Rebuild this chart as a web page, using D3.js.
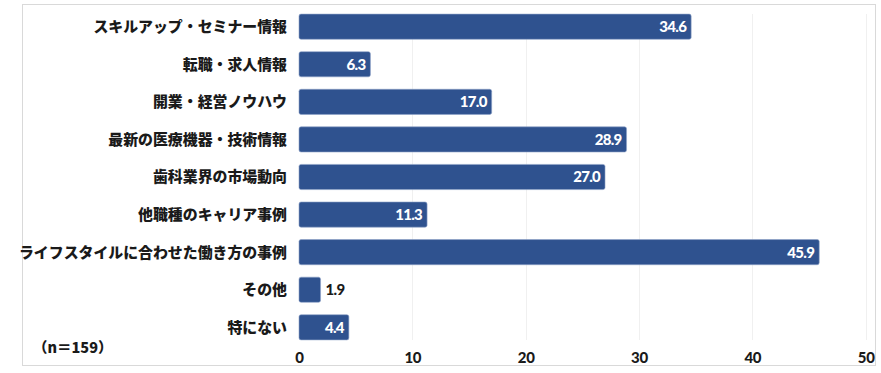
<!DOCTYPE html>
<html><head><meta charset="utf-8">
<script src="https://cdn.jsdelivr.net/npm/d3@7/dist/d3.min.js"></script>
<style>
html,body{margin:0;padding:0;background:#fff;}
svg{display:block;}
</style></head>
<body>
<script>
const categories = [
  "スキルアップ・セミナー情報",
  "転職・求人情報",
  "開業・経営ノウハウ",
  "最新の医療機器・技術情報",
  "歯科業界の市場動向",
  "他職種のキャリア事例",
  "ライフスタイルに合わせた働き方の事例",
  "その他",
  "特にない"
];
const values = [34.6, 6.3, 17.0, 28.9, 27.0, 11.3, 45.9, 1.9, 4.4];
const xTicks = [0, 10, 20, 30, 40, 50];
const note = "（n＝159）";

const W = 881, H = 373;
const svg = d3.select("body").append("svg").attr("width", W).attr("height", H);

// frame
svg.append("rect").attr("x", 22.5).attr("y", 4.5).attr("width", 853).attr("height", 361)
  .attr("fill", "#fff").attr("stroke", "#d9d9d9").attr("stroke-width", 1);

const x = d3.scaleLinear().domain([0, 50]).range([299, 865.7]);
const y = d3.scaleBand().domain(categories).range([7.9, 346.1]).paddingInner(0.33).paddingOuter(0.165);

const jp = "'Noto Sans CJK JP', 'Noto Sans', sans-serif";
const num = "Lato, 'Noto Sans', sans-serif";

// gridlines
svg.append("g").selectAll("line").data(xTicks.slice(1)).join("line")
  .attr("x1", d => Math.round(x(d)) + 0.5).attr("x2", d => Math.round(x(d)) + 0.5)
  .attr("y1", 14).attr("y2", 340)
  .attr("stroke", "#f0f0f0").attr("stroke-width", 1);

// bars
svg.append("g").selectAll("rect").data(values).join("rect")
  .attr("x", x(0))
  .attr("y", (d, i) => y(categories[i]))
  .attr("width", d => x(d) - x(0))
  .attr("height", y.bandwidth())
  .attr("rx", 2)
  .attr("fill", "#2f528f")
  .attr("stroke", "#8fa3c8").attr("stroke-width", 0.6);

// category labels
svg.append("g").selectAll("text").data(categories).join("text")
  .attr("x", 287)
  .attr("y", d => y(d) + y.bandwidth() / 2)
  .attr("dy", "0.36em")
  .attr("text-anchor", "end")
  .attr("font-family", jp).attr("font-weight", 900).attr("font-size", 14.9)
  .attr("fill", "#1a1a1a")
  .text(d => d);

// value labels
svg.append("g").selectAll("text").data(values).join("text")
  .each(function(d, i) {
    const t = d3.select(this);
    const inside = (x(d) - x(0)) > 34;
    t.attr("x", inside ? x(d) - 5 : x(d) + 5)
     .attr("text-anchor", inside ? "end" : "start")
     .attr("fill", inside ? "#ffffff" : "#1a1a1a");
  })
  .attr("y", (d, i) => y(categories[i]) + y.bandwidth() / 2)
  .attr("dy", "0.36em")
  .attr("font-family", num).attr("font-weight", 900).attr("font-size", 15)
  .attr("letter-spacing", "-0.7px")
  .text(d => d.toFixed(1));

// x axis
const ax = svg.append("g").attr("transform", "translate(0,345)")
  .call(d3.axisBottom(x).tickValues(xTicks).tickSize(0).tickPadding(7).tickFormat(d3.format("d")));
ax.select(".domain").remove();
ax.selectAll("text").attr("font-family", num).attr("font-weight", 900).attr("font-size", 15)
  .attr("fill", "#1a1a1a").attr("letter-spacing", "-0.3px");

// note
svg.append("text").attr("x", 33).attr("y", 348).attr("dy", "0.36em")
  .attr("font-family", jp).attr("font-weight", 900).attr("font-size", 14.5)
  .attr("fill", "#1a1a1a").text(note);
</script>
</body></html>
